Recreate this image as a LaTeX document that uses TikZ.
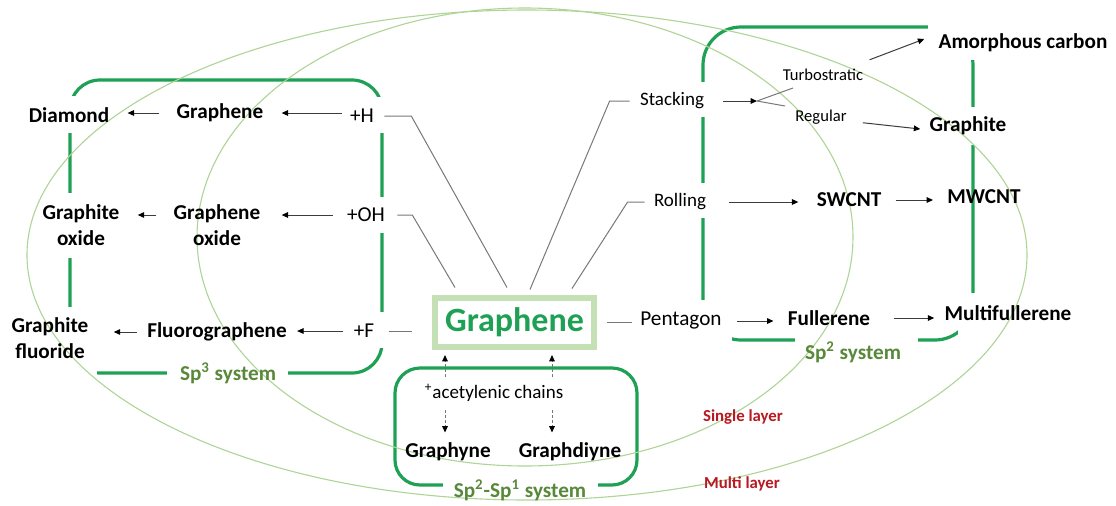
\documentclass[tikz,border=0pt]{standalone}
\usepackage{fontspec}
\setmainfont{Carlito}
\usetikzlibrary{arrows.meta,calc}

\definecolor{brk}{RGB}{30,160,85}
\definecolor{ell}{RGB}{175,212,150}
\definecolor{boxg}{RGB}{197,224,180}
\definecolor{sysg}{RGB}{88,136,58}
\definecolor{lay}{RGB}{185,25,35}
\definecolor{conn}{RGB}{120,120,120}
\definecolor{arrc}{RGB}{60,60,60}

\begin{document}
\begin{tikzpicture}[x=0.5pt,y=-0.5pt,
  lbl/.style={font=\bfseries\fontsize{10.6}{12.8}\selectfont, inner sep=0pt, align=center},
  txt/.style={font=\fontsize{10.6}{12.8}\selectfont, inner sep=0pt},
  txtsm/.style={font=\fontsize{9.5}{11}\selectfont, inner sep=0pt},
  txtxs/.style={font=\fontsize{8.3}{10}\selectfont, inner sep=0pt},
  sys/.style={font=\bfseries\fontsize{10.6}{12}\selectfont, text=sysg, inner sep=0pt},
  layer/.style={font=\bfseries\fontsize{8.4}{10}\selectfont, text=lay, inner sep=0pt},
  bracket/.style={draw=brk, line width=1.6pt},
  gap/.style={fill=white},
  ring/.style={draw=ell, line width=0.55pt},
  gline/.style={draw=conn, line width=0.5pt},
  arr/.style={draw=arrc, line width=0.5pt, -{Triangle[length=3.2pt,width=2.8pt,color=black]}},
  darr/.style={draw=conn, line width=0.5pt, dash pattern=on 1.5pt off 1pt, -{Triangle[length=3.2pt,width=2.8pt,color=black]}}
]
\useasboundingbox (0,0) rectangle (1116,505);
\fill[white] (0,0) rectangle (1116,505);

% system frames
\draw[bracket, rounded corners=15pt] (70,80) rectangle (382,373);
\draw[bracket, rounded corners=19pt] (703,27) rectangle (973,340);
\draw[bracket, rounded corners=12.5pt] (395,368) rectangle (637,485);

% openings in the frames around the labels
\fill[gap] (55,96) rectangle (86,133);
\fill[gap] (55,193) rectangle (86,258);
\fill[gap] (55,307) rectangle (97,385);
\fill[gap] (167,362) rectangle (288,385);
\fill[gap] (360,97) rectangle (395,133);
\fill[gap] (370,197) rectangle (395,233);
\fill[gap] (370,312) rectangle (395,348);
\fill[gap] (928,10) rectangle (990,60);
\fill[gap] (690,82) rectangle (716,117);
\fill[gap] (690,183) rectangle (716,218);
\fill[gap] (690,300) rectangle (732,350);
\fill[gap] (795,330) rectangle (918,350);
\fill[gap] (960,107) rectangle (990,145);
\fill[gap] (958,293) rectangle (990,350);
\fill[gap] (443,478) rectangle (598,495);

% single and multi layer domains
\draw[ring] (525,237) ellipse [x radius=328, y radius=229];
\draw[ring] (527,255) ellipse [x radius=500, y radius=245];

% central graphene
\node[draw=boxg, line width=3pt, minimum width=79.5pt, minimum height=24.5pt,
      inner sep=0pt, font=\bfseries\fontsize{17}{20}\selectfont, text=brk]
      (gbox) at (514.5,322.5) {Graphene};

% sp3 side
\node[lbl] (diam) at (69,115) {Diamond};
\node[lbl] (gr1) at (220,113) {Graphene};
\node[txt] (pH) at (362,116) {+H};
\node[lbl] (gtox) at (81,225) {Graphite\\oxide};
\node[lbl] (grox) at (217,225) {Graphene\\oxide};
\node[txt] (pOH) at (366,215) {+OH};
\node[lbl] (gtfl) at (50,338) {Graphite\\fluoride};
\node[lbl] (fluo) at (217,332) {Fluorographene};
\node[txt] (pF) at (364,331) {+F};

\draw[arr, shorten <=4pt, shorten >=9pt] (gr1.east -| pH.west) -- (gr1.east);
\draw[arr, shorten <=8.5pt, shorten >=9pt] (gr1.west) -- (gr1.west -| diam.east);
\draw[arr, shorten <=7pt, shorten >=10.5pt] (pOH.west) -- (pOH.west -| grox.east);
\draw[arr, shorten <=8.5pt, shorten >=9pt] (grox.west |- pOH) -- (gtox.east |- pOH);
\draw[arr, shorten <=5pt, shorten >=5pt] (pF.west) -- (pF.west -| fluo.east);
\draw[arr, shorten <=5pt, shorten >=12.5pt] (fluo.west) -- (fluo.west -| gtfl.east);

% sp2 side
\node[txtsm] (stack) at (672,101) {Stacking};
\node[txtsm] (roll) at (680,202) {Rolling};
\node[txt] (pent) at (681,321) {Pentagon};
\node[txtxs] (turbo) at (823,75) {Turbostratic};
\node[txtxs] (regl) at (821,117) {Regular};
\node[lbl] (amor) at (1023,43) {Amorphous carbon};
\node[lbl] (graph) at (968,126) {Graphite};
\node[lbl] (swcnt) at (849,200) {SWCNT};
\node[lbl] (mwcnt) at (984,197) {MWCNT};
\node[lbl] (full) at (829,318) {Fullerene};
\node[lbl] (mfull) at (1008,313) {Multifullerene};

\coordinate (junc) at (757,101);
\coordinate (jt) at (793,88);
\coordinate (jr) at (785,106);
\draw[arr, shorten <=9.5pt] (stack.east) -- (junc);
\draw[gline] (junc) -- (jt);
\draw[gline] (junc) -- (jr);
\draw[arr] ([xshift=3pt,yshift=4.5pt]turbo.north east) -- ([xshift=-7pt,yshift=2pt]amor.west);
\draw[arr, shorten <=8pt, shorten >=4.5pt] ([yshift=-2pt]regl.east) -- ([yshift=-2pt]graph.west);
\draw[arr, shorten <=11.5pt, shorten >=9pt] (roll.east) -- (roll.east -| swcnt.west);
\draw[arr, shorten <=7pt, shorten >=7pt] (swcnt.east) -- (swcnt.east -| mwcnt.west);
\draw[arr, shorten <=7.5pt, shorten >=7pt] (pent.east) -- (pent.east -| full.west);
\draw[arr, shorten <=11.5pt, shorten >=5pt] (full.east) -- (full.east -| mfull.west);

% links to the central graphene
\draw[gline] ([xshift=5pt]pH.east) -- ++(27,0) -- ([xshift=-3.75pt,yshift=3.75pt]gbox.north);
\draw[gline] ([xshift=6pt]pOH.east) -- ++(15,0) -- ([xshift=-29.75pt,yshift=3.75pt]gbox.north);
\draw[gline, shorten <=7pt, shorten >=10pt] (pF.east) -- (pF.east -| gbox.west);
\draw[gline] ([xshift=-5pt]stack.west) -- ++(-20,0) -- ([xshift=7.75pt,yshift=2.75pt]gbox.north);
\draw[gline] ([xshift=-4.5pt]roll.west) -- ++(-17,0) -- ([xshift=28.75pt,yshift=3.25pt]gbox.north);
\draw[gline, shorten <=5pt, shorten >=4pt] (gbox.east) -- (gbox.east -| pent.west);

% sp2-sp1 side
\node[txtsm] (acet) at (494,393) {\textsuperscript{+}acetylenic chains};
\node[lbl] (gyne) at (448,452) {Graphyne};
\node[lbl] (gdiy) at (570,452) {Graphdiyne};
\coordinate (u1) at (445,377);
\coordinate (u2) at (552,377);
\coordinate (d1) at (445,410);
\coordinate (d2) at (552,410);
\draw[darr, shorten >=2.5pt] (u1) -- (u1 |- gbox.south);
\draw[darr, shorten >=2.5pt] (u2) -- (u2 |- gbox.south);
\draw[darr, shorten >=5pt] (d1) -- (d1 |- gyne.north);
\draw[darr, shorten >=5pt] (d2) -- (d2 |- gdiy.north);

% captions
\node[sys] (sp3) at (228,373) {Sp\textsuperscript{3} system};
\node[sys] (sp2) at (853,352) {Sp\textsuperscript{2} system};
\node[sys] (sp21) at (520,490) {Sp\textsuperscript{2}-Sp\textsuperscript{1} system};
\node[layer] (single) at (743,417) {Single layer};
\node[layer] (multi) at (742,484) {Multi layer};
\end{tikzpicture}
\end{document}
